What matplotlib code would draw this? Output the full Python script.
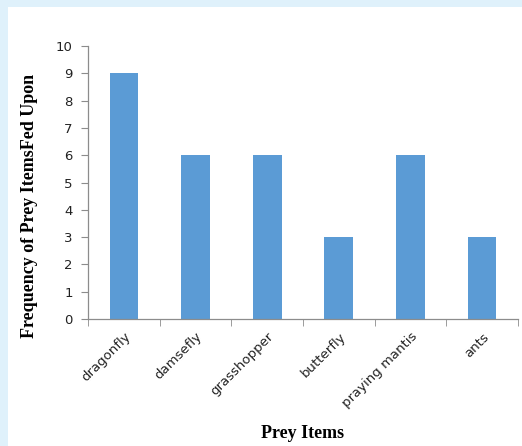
import numpy as np
import matplotlib.pyplot as plt
from matplotlib.patches import Rectangle

# prey items and how often each was fed upon
prey = ['dragonfly', 'damsefly', 'grasshopper', 'butterfly', 'praying mantis', 'ants']
freq = [9, 6, 6, 3, 6, 3]

axis_grey = '#8c8c8c'
bar_blue = '#5b9bd5'

fig = plt.figure(figsize=(5.22, 4.46), dpi=100)
fig.patch.set_facecolor('white')
# light blue frame along the top and left edges
fig.patches.append(Rectangle((0, 1 - 7 / 446), 1, 7 / 446, transform=fig.transFigure,
                             facecolor='#dff1fb', edgecolor='none', zorder=0))
fig.patches.append(Rectangle((0, 0), 8 / 522, 1, transform=fig.transFigure,
                             facecolor='#dff1fb', edgecolor='none', zorder=0))

ax = fig.add_axes([88 / 522, 1 - 319 / 446, 430 / 522, 273 / 446])
x = np.arange(len(prey))
ax.bar(x, freq, width=0.4, color=bar_blue, zorder=2)

ax.set_xlim(-0.5, len(prey) - 0.5)
ax.set_ylim(0, 10)
ax.set_yticks(range(0, 11))
ax.tick_params(axis='y', direction='out', length=5, color=axis_grey,
               labelsize=9.5, labelcolor='#222222', pad=6)

# category labels in the middle, tick marks between categories
ax.set_xticks(x)
ax.set_xticklabels(prey, rotation=45, ha='right', rotation_mode='anchor',
                   fontsize=9.5, color='#222222')
ax.tick_params(axis='x', which='major', length=0, pad=8)
ax.set_xticks(np.arange(-0.5, len(prey)), minor=True)
ax.tick_params(axis='x', which='minor', direction='out', length=5, color=axis_grey)

for side in ['top', 'right']:
    ax.spines[side].set_visible(False)
for side in ['left', 'bottom']:
    ax.spines[side].set_color(axis_grey)
    ax.spines[side].set_linewidth(0.9)

ax.set_xlabel('Prey Items', family='Liberation Serif', fontweight='bold', fontsize=13)
ax.xaxis.set_label_coords(0.5, -(433 - 319) / 273)
ax.set_ylabel('Frequency of Prey ItemsFed Upon', family='Liberation Serif',
              fontweight='bold', fontsize=13)
ax.yaxis.set_label_coords(-(88 - 30) / 430, (319 - 206) / 273)
ax.yaxis.label.set_va('center')
ax.xaxis.label.set_va('center')

fig.savefig('out.png', dpi=100)
